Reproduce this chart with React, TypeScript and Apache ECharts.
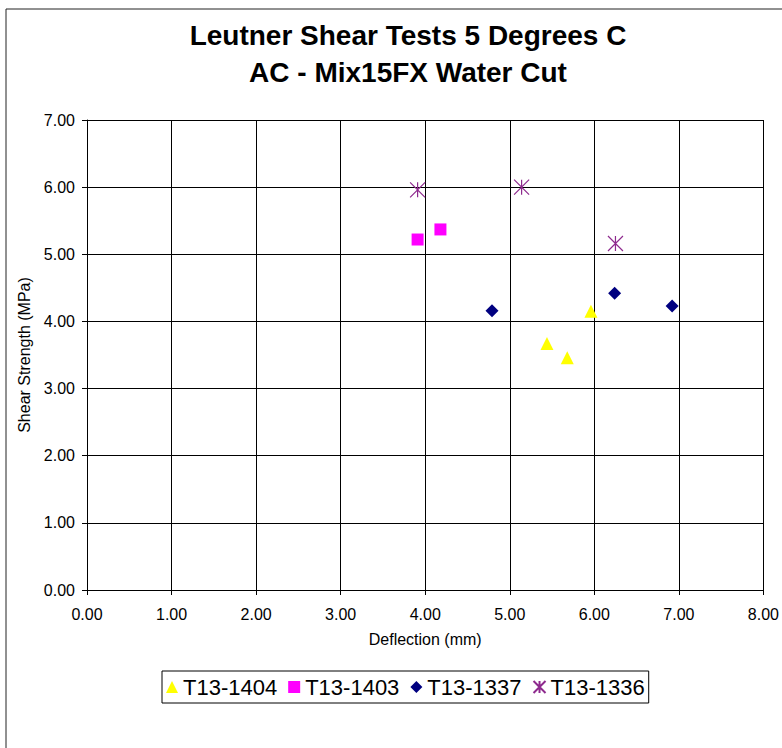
import React, { useEffect, useRef } from "react";
import * as echarts from "echarts";

const titleLines = ["Leutner Shear Tests 5 Degrees C", "AC - Mix15FX Water Cut"];
const xAxisName = "Deflection (mm)";
const yAxisName = "Shear Strength (MPa)";

const seriesNames = ["T13-1404", "T13-1403", "T13-1337", "T13-1336"];

const t1404X = [5.44, 5.68, 5.96];
const t1404Y = [3.67, 3.46, 4.15];

const t1403X = [3.91, 4.18];
const t1403Y = [5.22, 5.37];

const t1337X = [4.79, 6.24, 6.92];
const t1337Y = [4.16, 4.42, 4.23];

const t1336X = [3.91, 5.14, 6.25];
const t1336Y = [5.96, 6.0, 5.16];

const xTicks = { min: 0, max: 8, interval: 1 };
const yTicks = { min: 0, max: 7, interval: 1 };

const pairs = (xs: number[], ys: number[]) => xs.map((x, i) => [x, ys[i]]);

const FONT = "'Liberation Sans', Arial, sans-serif";
const ASTERISK = "path://M0 0L10 10M10 0L0 10M5 0L5 10";

export default function App() {
  const ref = useRef<HTMLDivElement>(null);

  useEffect(() => {
    if (!ref.current) return;
    const chart = echarts.init(ref.current, null, { renderer: "svg" });
    chart.setOption({
      animation: false,
      backgroundColor: "#fff",
      textStyle: { fontFamily: FONT },
      title: {
        text: titleLines.join("\n"),
        left: 408,
        top: 17,
        padding: 0,
        textAlign: "center",
        textStyle: {
          fontFamily: FONT,
          fontSize: 28,
          fontWeight: "bold",
          color: "#000",
          lineHeight: 36.7,
        },
      },
      graphic: [
        {
          type: "rect",
          shape: { x: 6, y: 9, width: 1000, height: 1000 },
          style: { fill: "none", stroke: "#222", lineWidth: 1 },
          silent: true,
          z: -10,
        },
      ],
      grid: { left: 87, top: 120, right: 16, bottom: 158, containLabel: false },
      xAxis: {
        type: "value",
        min: xTicks.min,
        max: xTicks.max,
        interval: xTicks.interval,
        name: xAxisName,
        nameLocation: "middle",
        nameGap: 41,
        nameTextStyle: { fontFamily: FONT, fontSize: 16, color: "#000" },
        axisLine: { show: true, lineStyle: { color: "#000", width: 1 } },
        axisTick: { show: true, length: 5, lineStyle: { color: "#000" } },
        axisLabel: {
          fontFamily: FONT,
          fontSize: 16,
          color: "#000",
          margin: 16,
          formatter: (v: number) => v.toFixed(2),
        },
        splitLine: { show: true, lineStyle: { color: "#000", width: 1 } },
      },
      yAxis: {
        type: "value",
        min: yTicks.min,
        max: yTicks.max,
        interval: yTicks.interval,
        name: yAxisName,
        nameLocation: "middle",
        nameGap: 52,
        nameTextStyle: { fontFamily: FONT, fontSize: 16, color: "#000" },
        axisLine: { show: true, lineStyle: { color: "#000", width: 1 } },
        axisTick: { show: true, length: 5, lineStyle: { color: "#000" } },
        axisLabel: {
          fontFamily: FONT,
          fontSize: 16,
          color: "#000",
          margin: 12,
          formatter: (v: number) => v.toFixed(2),
        },
        splitLine: { show: true, lineStyle: { color: "#000", width: 1 } },
      },
      legend: {
        left: 162,
        top: 671,
        orient: "horizontal",
        borderColor: "#000",
        borderWidth: 1,
        padding: [5, 4],
        itemGap: 11,
        itemWidth: 12,
        itemHeight: 12,
        textStyle: { fontFamily: FONT, fontSize: 22, color: "#000" },
        data: seriesNames,
      },
      series: [
        {
          name: seriesNames[0],
          type: "scatter",
          symbol: "triangle",
          symbolSize: 13,
          itemStyle: { color: "#FFFF00", opacity: 1 },
          data: pairs(t1404X, t1404Y),
        },
        {
          name: seriesNames[1],
          type: "scatter",
          symbol: "rect",
          symbolSize: 12,
          itemStyle: { color: "#FF00FF", opacity: 1 },
          data: pairs(t1403X, t1403Y),
        },
        {
          name: seriesNames[2],
          type: "scatter",
          symbol: "diamond",
          symbolSize: 13,
          itemStyle: { color: "#000080", opacity: 1 },
          data: pairs(t1337X, t1337Y),
        },
        {
          name: seriesNames[3],
          type: "scatter",
          symbol: ASTERISK,
          symbolSize: 15,
          itemStyle: { color: "#8E2A8E", borderColor: "#8E2A8E", borderWidth: 1.2, opacity: 1 },
          data: pairs(t1336X, t1336Y),
        },
      ],
    });
    return () => chart.dispose();
  }, []);

  return (
    <div
      ref={ref}
      style={{ position: "absolute", left: 0, top: 0, width: 782, height: 748 }}
    />
  );
}
